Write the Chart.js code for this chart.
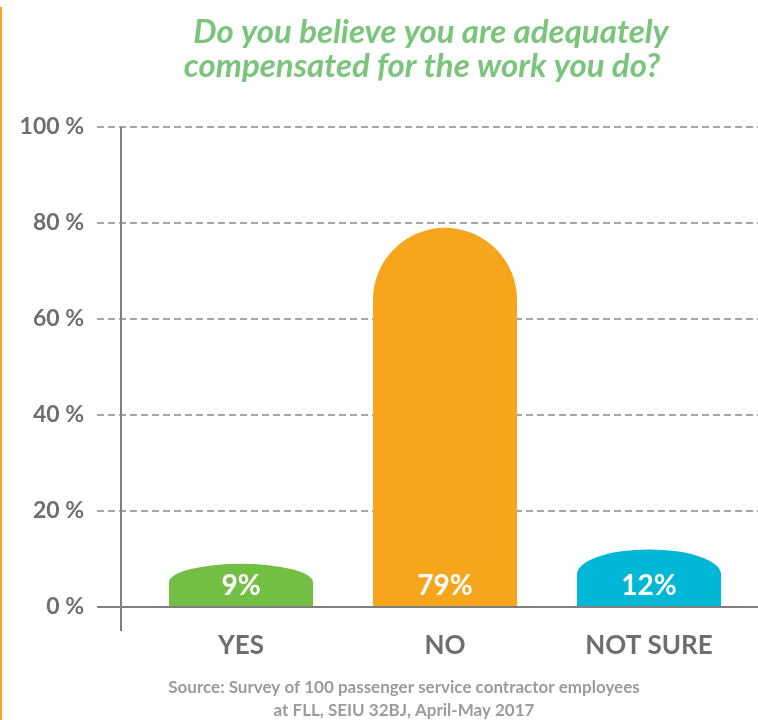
<!DOCTYPE html>
<html>
<head>
<meta charset="utf-8">
<script src="https://cdn.jsdelivr.net/npm/chart.js@4.4.1/dist/chart.umd.min.js"></script>
<style>
  html, body { margin: 0; padding: 0; background: #fff; }
  #wrap { width: 758px; height: 720px; position: relative; }
</style>
</head>
<body>
<div id="wrap"><canvas id="compChart" width="758" height="720"></canvas></div>
<script>
// survey answers
const categories = ['YES', 'NO', 'NOT SURE'];
const shares = [9, 79, 12];
const barColors = ['#72bf44', '#f8a51e', '#00b8d6'];
const yTicks = [0, 20, 40, 60, 80, 100];

const titleLines = ['Do you believe you are adequately', 'compensated for the work you do?'];
const sourceLines = ['Source: Survey of 100 passenger service contractor employees', 'at FLL, SEIU 32BJ, April-May 2017'];

const FONT = 'Lato, "Open Sans", sans-serif';

// dashed guides, axis lines, texts and the dome-topped bars
const decor = {
  id: 'decor',
  beforeDraw(chart) {
    const ctx = chart.ctx;
    const y = chart.scales.y;
    ctx.save();
    // orange rule down the left edge
    ctx.fillStyle = '#f8a51e';
    ctx.fillRect(0, 7, 2, 713);

    ctx.strokeStyle = '#a6a6a6';
    ctx.lineWidth = 2;
    ctx.setLineDash([7, 4]);
    yTicks.forEach(t => {
      if (t === 0) return;
      const py = Math.round(y.getPixelForValue(t));
      ctx.beginPath();
      ctx.moveTo(97, py);
      ctx.lineTo(758, py);
      ctx.stroke();
    });
    ctx.setLineDash([]);

    // title
    ctx.fillStyle = '#7ac47c';
    ctx.font = 'italic bold 33px ' + FONT;
    ctx.textAlign = 'center';
    ctx.textBaseline = 'alphabetic';
    ctx.fillText(titleLines[0], 431, 43);
    ctx.fillText(titleLines[1], 422, 77);

    // source note
    ctx.fillStyle = '#9a9b9d';
    ctx.font = 'bold 17px ' + FONT;
    ctx.fillText(sourceLines[0], 404, 693);
    ctx.fillText(sourceLines[1], 404, 716);
    ctx.restore();
  },
  beforeDatasetsDraw(chart) {
    const ctx = chart.ctx;
    const meta = chart.getDatasetMeta(0);
    ctx.save();
    meta.data.forEach((bar, i) => {
      const {x, y, base, width} = bar.getProps(['x', 'y', 'base', 'width'], true);
      const rx = width / 2;
      const ry = Math.min(rx, (base - y) * 0.43);
      ctx.fillStyle = barColors[i];
      ctx.beginPath();
      ctx.moveTo(x - rx, base);
      ctx.lineTo(x - rx, y + ry);
      ctx.ellipse(x, y + ry, rx, ry, 0, Math.PI, Math.PI * 2);
      ctx.lineTo(x + rx, base);
      ctx.closePath();
      ctx.fill();
    });
    ctx.restore();
    return false;
  },
  afterDraw(chart) {
    const ctx = chart.ctx;
    const y = chart.scales.y;
    const zero = Math.round(y.getPixelForValue(0));
    const top = Math.round(y.getPixelForValue(100));
    ctx.save();
    // baseline and vertical axis
    ctx.fillStyle = '#7f7f7f';
    ctx.fillRect(97, zero - 1, 661, 2);
    ctx.fillRect(120, top, 2, zero + 24 - top);

    // value labels inside the bars
    const meta = chart.getDatasetMeta(0);
    ctx.fillStyle = '#ffffff';
    ctx.font = 'bold 28px ' + FONT;
    ctx.textAlign = 'center';
    ctx.textBaseline = 'alphabetic';
    meta.data.forEach((bar, i) => {
      ctx.fillText(shares[i] + '%', bar.x, bar.base - 12);
    });
    ctx.restore();
  }
};

new Chart(document.getElementById('compChart'), {
  type: 'bar',
  data: {
    labels: categories,
    datasets: [{
      data: shares,
      backgroundColor: barColors,
      barThickness: 144
    }]
  },
  plugins: [decor],
  options: {
    responsive: false,
    animation: false,
    events: [],
    layout: { padding: { left: 0, right: 7, top: 127, bottom: 0 } },
    plugins: {
      legend: { display: false },
      tooltip: { enabled: false }
    },
    scales: {
      x: {
        grid: { display: false, drawTicks: false },
        border: { display: false },
        ticks: {
          color: '#6d6e71',
          font: { family: FONT, size: 26, weight: 'bold' },
          padding: 23
        },
        afterFit(scale) { scale.height = 113; }
      },
      y: {
        min: 0,
        max: 100,
        afterBuildTicks(scale) { scale.ticks = yTicks.map(v => ({ value: v })); },
        grid: { display: false, drawTicks: false },
        border: { display: false },
        ticks: {
          color: '#6d6e71',
          font: { family: FONT, size: 23, weight: 'bold' },
          padding: 55,
          callback: v => v + ' %'
        },
        afterFit(scale) { scale.width = 139; }
      }
    }
  }
});
</script>
</body>
</html>
